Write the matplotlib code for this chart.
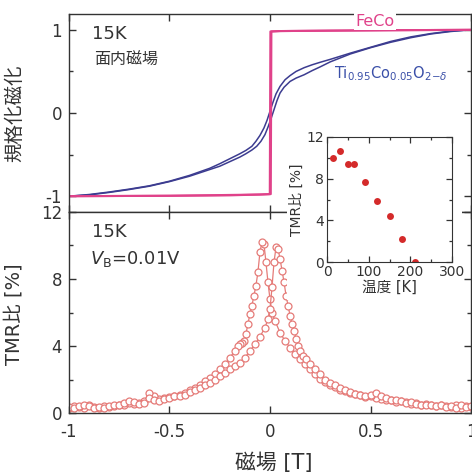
import matplotlib
matplotlib.use("Agg")
import matplotlib.pyplot as plt
from matplotlib.patches import Rectangle
from matplotlib.ticker import MultipleLocator

plt.rcParams['font.family'] = ['DejaVu Sans', 'Noto Sans CJK JP']
plt.rcParams['mathtext.fontset'] = 'dejavusans'

# 上段: 規格化磁化
feco_up_h = [-1.0, -0.5, -0.2, -0.05, 0.004, 0.007, 0.05, 0.3, 0.6, 1.0]
feco_up_m = [-1.0, -0.995, -0.99, -0.98, -0.975, 0.98, 0.985, 0.99, 0.995, 1.0]
feco_dn_h = [1.0, 0.6, 0.3, 0.05, 0.002, -0.001, -0.05, -0.5, -1.0]
feco_dn_m = [1.0, 0.995, 0.99, 0.985, 0.98, -0.975, -0.98, -0.995, -1.0]

tio_dn_h = [1.0, 0.9, 0.8, 0.7, 0.6, 0.5, 0.4, 0.3, 0.25, 0.21, 0.17, 0.13, 0.1, 0.075,
            0.05, 0.03, 0.015, 0.0, -0.015, -0.03, -0.05, -0.07, -0.09, -0.12, -0.15,
            -0.2, -0.25, -0.3, -0.4, -0.5, -0.6, -0.7, -0.8, -0.9, -1.0]
tio_dn_m = [1.0, 0.985, 0.955, 0.915, 0.86, 0.79, 0.72, 0.645, 0.61, 0.58, 0.545, 0.5, 0.45, 0.4,
            0.32, 0.23, 0.13, 0.02, -0.09, -0.18, -0.27, -0.34, -0.4, -0.45, -0.49,
            -0.55, -0.61, -0.665, -0.75, -0.82, -0.875, -0.915, -0.95, -0.98, -1.0]
tio_up_h = [-1.0, -0.9, -0.8, -0.7, -0.6, -0.5, -0.4, -0.3, -0.25, -0.2, -0.15, -0.12, -0.09,
            -0.066, -0.045, -0.025, -0.01, 0.005, 0.02, 0.035, 0.05, 0.07, 0.1, 0.13, 0.17,
            0.21, 0.25, 0.3, 0.4, 0.5, 0.6, 0.7, 0.8, 0.9, 1.0]
tio_up_m = [-1.0, -0.985, -0.955, -0.92, -0.88, -0.825, -0.76, -0.68, -0.64, -0.585, -0.53,
            -0.49, -0.445, -0.4, -0.34, -0.26, -0.17, -0.07, 0.04, 0.15, 0.24, 0.31, 0.38,
            0.42, 0.46, 0.51, 0.555, 0.615, 0.71, 0.785, 0.85, 0.905, 0.95, 0.98, 1.0]

# 下段: TMR比
tmr1_h = [1.0, 0.975, 0.95, 0.925, 0.9, 0.875, 0.85, 0.825, 0.8, 0.775, 0.75, 0.725, 0.7,
          0.675, 0.65, 0.625, 0.6, 0.575, 0.55, 0.525, 0.5, 0.475, 0.45, 0.425, 0.4, 0.375,
          0.35, 0.325, 0.3, 0.275, 0.25, 0.225, 0.2, 0.175, 0.15, 0.125, 0.1, 0.075, 0.05,
          0.025, 0.01, 0.0, -0.01, -0.02, -0.03, -0.04, -0.05, -0.06, -0.07, -0.08, -0.09,
          -0.1, -0.11, -0.12, -0.13, -0.14, -0.15, -0.16, -0.175, -0.2, -0.225, -0.25,
          -0.275, -0.3, -0.325, -0.35, -0.375, -0.4, -0.425, -0.45, -0.475, -0.5, -0.525,
          -0.55, -0.575, -0.6, -0.625, -0.65, -0.675, -0.7, -0.725, -0.75, -0.775, -0.8,
          -0.825, -0.85, -0.875, -0.9, -0.925, -0.95, -0.975, -1.0]
tmr1_v = [0.35, 0.4, 0.3, 0.45, 0.35, 0.4, 0.5, 0.4, 0.45, 0.55, 0.5, 0.6, 0.55,
          0.65, 0.7, 0.65, 0.8, 0.75, 0.85, 0.9, 1.0, 0.95, 1.05, 1.15, 1.2, 1.3,
          1.4, 1.55, 1.7, 1.85, 2.05, 2.3, 2.6, 2.9, 3.2, 3.55, 3.9, 4.3, 4.8,
          5.5, 6.0, 6.8, 7.8, 9.0, 10.1, 10.2, 9.6, 8.4, 7.6, 7.0, 6.4,
          5.9, 5.3, 4.7, 4.3, 4.2, 4.1, 4.0, 3.7, 3.3, 2.9, 2.6,
          2.35, 2.1, 1.9, 1.7, 1.5, 1.35, 1.2, 1.1, 1.0, 0.95, 0.9,
          0.85, 1.0, 1.2, 0.7, 0.6, 0.55, 0.6, 0.5, 0.45, 0.4, 0.35,
          0.4, 0.3, 0.35, 0.45, 0.3, 0.35, 0.4, 0.3]
tmr2_h = [-1.0, -0.975, -0.95, -0.925, -0.9, -0.875, -0.85, -0.825, -0.8, -0.775, -0.75,
          -0.725, -0.7, -0.675, -0.65, -0.625, -0.6, -0.575, -0.55, -0.525, -0.5, -0.475,
          -0.45, -0.425, -0.4, -0.375, -0.35, -0.325, -0.3, -0.275, -0.25, -0.225, -0.2,
          -0.175, -0.15, -0.125, -0.1, -0.075, -0.05, -0.025, -0.01, 0.0, 0.01, 0.02, 0.03,
          0.04, 0.05, 0.06, 0.07, 0.08, 0.09, 0.1, 0.11, 0.12, 0.13, 0.14, 0.15, 0.165,
          0.18, 0.2, 0.225, 0.25, 0.275, 0.3, 0.325, 0.35, 0.375, 0.4, 0.425, 0.45, 0.475,
          0.5, 0.525, 0.55, 0.575, 0.6, 0.625, 0.65, 0.675, 0.7, 0.725, 0.75, 0.775, 0.8,
          0.825, 0.85, 0.875, 0.9, 0.925, 0.95, 0.975, 1.0]
tmr2_v = [0.35, 0.3, 0.4, 0.5, 0.4, 0.3, 0.35, 0.3, 0.4, 0.5, 0.45,
          0.6, 0.7, 0.65, 0.55, 0.6, 0.9, 0.8, 0.7, 0.85, 0.9, 1.0,
          1.0, 1.1, 1.25, 1.35, 1.5, 1.65, 1.8, 2.0, 2.2, 2.4, 2.6,
          2.8, 3.0, 3.3, 3.7, 4.1, 4.55, 5.1, 5.6, 6.2, 7.5, 9.0, 9.9,
          9.8, 9.2, 8.5, 7.8, 7.0, 6.4, 5.8, 5.3, 4.9, 4.4, 4.0, 3.7, 3.4,
          3.2, 2.9, 2.6, 2.3, 2.0, 1.8, 1.65, 1.5, 1.4, 1.25, 1.15, 1.05, 1.0,
          1.1, 1.2, 1.0, 0.9, 0.8, 0.75, 0.7, 0.6, 0.65, 0.55, 0.5, 0.45, 0.5,
          0.4, 0.45, 0.35, 0.4, 0.3, 0.45, 0.35, 0.4]

# 挿入図: TMR比の温度依存
temp_k = [15, 30, 50, 65, 90, 120, 150, 180, 210]
tmr_t = [10.0, 10.7, 9.4, 9.4, 7.7, 5.9, 4.4, 2.2, 0.0]

txt = '#333333'
pink = '#e0428a'
navy = '#3c3c90'
red_o = '#e57b78'

fig = plt.figure(figsize=(4.72, 4.75), dpi=100)
ax1 = fig.add_axes([0.146, 0.5537, 0.852, 0.4168])
ax2 = fig.add_axes([0.146, 0.1305, 0.852, 0.4232])

for ax in (ax1, ax2):
    ax.tick_params(which='both', direction='in', top=True, right=True, colors=txt,
                   labelsize=12, width=1.0)
    ax.tick_params(which='major', length=5)
    ax.tick_params(which='minor', length=3)
    ax.tick_params(axis='x', pad=7)
    ax.tick_params(axis='y', pad=5)
    ax.set_xlim(-1, 1)
    ax.xaxis.set_major_locator(MultipleLocator(0.5))
    for s in ax.spines.values():
        s.set_color(txt)
        s.set_linewidth(1.0)

ax1.plot(tio_dn_h, tio_dn_m, color=navy, lw=1.1)
ax1.plot(tio_up_h, tio_up_m, color=navy, lw=1.1)
ax1.plot(feco_up_h, feco_up_m, color=pink, lw=1.5)
ax1.plot(feco_dn_h, feco_dn_m, color=pink, lw=1.5)
ax1.set_ylim(-1.19, 1.19)
ax1.set_yticks([-1, 0, 1])
ax1.set_yticklabels(['-1', '0', '1'])
ax1.yaxis.set_minor_locator(MultipleLocator(0.5))
ax1.tick_params(axis='x', labelbottom=False)
ax1.set_ylabel('規格化磁化', fontsize=14, color=txt)
ax1.yaxis.set_label_coords(-0.112, 0.5)
ax1.text(0.057, 0.9, '15K', transform=ax1.transAxes, fontsize=13, color=txt, va='center')
ax1.text(0.062, 0.767, '面内磁場', transform=ax1.transAxes, fontsize=11.5, color=txt,
         va='center')
ax1.text(0.76, 0.962, 'FeCo', transform=ax1.transAxes, fontsize=11.5, color=pink,
         ha='center', va='center', zorder=5,
         bbox=dict(facecolor='white', edgecolor='none', pad=1.0))
ax1.text(0.66, 0.7, r'Ti$_{0.95}$Co$_{0.05}$O$_{2\mathrm{-}\delta}$', transform=ax1.transAxes,
         fontsize=10.5, color='#3a4fa8', va='center')

ax2.plot(tmr1_h, tmr1_v, color=red_o, lw=0.9, marker='o', ms=5, mfc='white',
         mec=red_o, mew=0.9)
ax2.plot(tmr2_h, tmr2_v, color=red_o, lw=0.9, marker='o', ms=5, mfc='white',
         mec=red_o, mew=0.9)
ax2.set_ylim(0, 12)
ax2.set_yticks([0, 4, 8, 12])
ax2.yaxis.set_minor_locator(MultipleLocator(2))
ax2.set_xticks([-1, -0.5, 0, 0.5, 1])
ax2.set_xticklabels(['-1', '-0.5', '0', '0.5', '1'])
ax2.set_xlabel('磁場 [T]', fontsize=15, color=txt)
ax2.xaxis.set_label_coords(0.51, -0.195)
ax2.set_ylabel('TMR比 [%]', fontsize=14, color=txt)
ax2.yaxis.set_label_coords(-0.112, 0.49)
ax2.text(0.057, 0.9, '15K', transform=ax2.transAxes, fontsize=13, color=txt, va='center')
ax2.text(0.052, 0.765, r'$V_{\mathrm{B}}$=0.01V', transform=ax2.transAxes, fontsize=13,
         color=txt, va='center')

# 挿入図の白地
fig.patches.append(Rectangle((287 / 472, 1 - 300 / 475), 175 / 472, 95 / 475,
                             transform=fig.transFigure, facecolor='white',
                             edgecolor='none', zorder=3))

ax3 = fig.add_axes([0.693, 0.4484, 0.265, 0.2632], zorder=4)
ax3.plot(temp_k, tmr_t, 'o', color='#d42a2a', ms=5, mec='none')
ax3.set_xlim(0, 300)
ax3.set_ylim(0, 12)
ax3.set_xticks([0, 100, 200, 300])
ax3.set_yticks([0, 4, 8, 12])
ax3.xaxis.set_minor_locator(MultipleLocator(50))
ax3.yaxis.set_minor_locator(MultipleLocator(2))
ax3.tick_params(which='both', direction='in', top=True, right=True, colors=txt,
                labelsize=10, width=0.9, pad=2)
ax3.tick_params(which='major', length=4)
ax3.tick_params(which='minor', length=2)
for s in ax3.spines.values():
    s.set_color(txt)
ax3.set_xlabel('温度 [K]', fontsize=10.5, color=txt, labelpad=1)
ax3.set_ylabel('TMR比 [%]', fontsize=10, color=txt, labelpad=2)

fig.savefig('out.png', dpi=100)
